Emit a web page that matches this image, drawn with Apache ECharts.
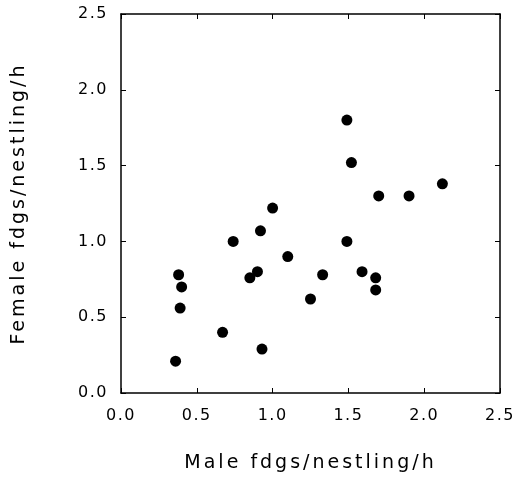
<!DOCTYPE html>
<html>
<head>
<meta charset="utf-8">
<script src="https://cdn.jsdelivr.net/npm/echarts@6/dist/echarts.min.js"></script>
<style>
  html, body { margin: 0; padding: 0; background: #fff; }
  #chart { width: 516px; height: 478px; }
</style>
</head>
<body>
<div id="chart"></div>
<script>
// male feeding rate (x) vs female feeding rate (y), per nest
const maleRate = [0.36, 0.38, 0.40, 0.39, 0.67, 0.74, 0.85, 0.90, 0.92, 0.93, 1.00, 1.10,
  1.25, 1.33, 1.49, 1.59, 1.68, 1.68, 1.49, 1.52, 1.70, 1.90, 2.12];
const femaleRate = [0.21, 0.78, 0.70, 0.56, 0.40, 1.00, 0.76, 0.80, 1.07, 0.29, 1.22, 0.90,
  0.62, 0.78, 1.00, 0.80, 0.76, 0.68, 1.80, 1.52, 1.30, 1.30, 1.38];
const xTicks = [0, 0.5, 1.0, 1.5, 2.0, 2.5];
const yTicks = [0, 0.5, 1.0, 1.5, 2.0, 2.5];

// the original plot uses a wide, loosely spaced plotter font:
// add a little canvas letter spacing (more for the axis titles)
const origFillText = CanvasRenderingContext2D.prototype.fillText;
CanvasRenderingContext2D.prototype.fillText = function (text, x, y, maxW) {
  this.letterSpacing = /\b19px/.test(this.font) ? '3px' : '1.5px';
  return maxW === undefined ? origFillText.call(this, text, x, y) : origFillText.call(this, text, x, y, maxW);
};

const chart = echarts.init(document.getElementById('chart'));

const font = 'DejaVu Sans';
const black = '#000';

const baseAxis = (ticks) => ({
  type: 'value',
  min: ticks[0],
  max: ticks[ticks.length - 1],
  interval: 0.5,
  axisLine: { show: true, onZero: false, lineStyle: { color: black, width: 1.5 } },
  axisTick: { show: true, inside: true, length: 5, lineStyle: { color: black, width: 1 } },
  splitLine: { show: false }
});

chart.setOption({
  backgroundColor: '#fff',
  animation: false,
  grid: { left: 121, right: 16, top: 14, bottom: 84 },
  xAxis: [
    Object.assign(baseAxis(xTicks), {
      position: 'bottom',
      name: 'Male fdgs/nestling/h',
      nameLocation: 'middle',
      nameGap: 61,
      nameTextStyle: { fontFamily: font, fontSize: 19, color: black },
      axisLabel: {
        margin: 15,
        fontFamily: font, fontSize: 16, color: black,
        formatter: v => v.toFixed(1)
      }
    }),
    Object.assign(baseAxis(xTicks), {
      position: 'top',
      axisLabel: { show: false }
    })
  ],
  yAxis: [
    Object.assign(baseAxis(yTicks), {
      position: 'left',
      name: 'Female fdgs/nestling/h',
      nameLocation: 'middle',
      nameGap: 92,
      nameTextStyle: { fontFamily: font, fontSize: 19, color: black },
      axisLabel: {
        margin: 13,
        fontFamily: font, fontSize: 16, color: black,
        formatter: v => v.toFixed(1)
      }
    }),
    Object.assign(baseAxis(yTicks), {
      position: 'right',
      axisLabel: { show: false }
    })
  ],
  series: [{
    type: 'scatter',
    symbol: 'circle',
    symbolSize: 11,
    itemStyle: { color: '#000', opacity: 1 },
    data: maleRate.map((x, i) => [x, femaleRate[i]])
  }]
});
</script>
</body>
</html>
